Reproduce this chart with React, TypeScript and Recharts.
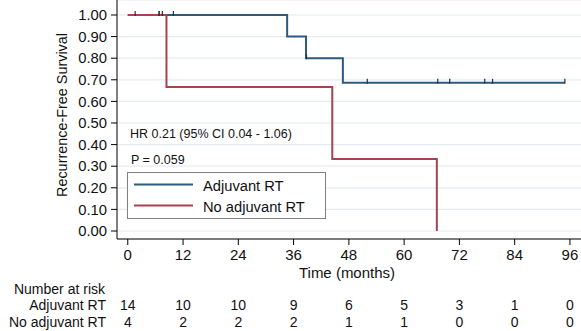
import React from "react";
import {
  ComposedChart,
  Line,
  Scatter,
  XAxis,
  YAxis,
  CartesianGrid,
} from "recharts";

// Kaplan-Meier steps (time in months, survival)
const adjuvantSteps = [
  { t: 0, s: 1 },
  { t: 34.6, s: 0.9 },
  { t: 38.7, s: 0.8 },
  { t: 46.7, s: 0.686 },
  { t: 94.9, s: 0.686 },
];
const noAdjuvantSteps = [
  { t: 0, s: 1 },
  { t: 8.4, s: 0.667 },
  { t: 44.4, s: 0.333 },
  { t: 67.1, s: 0 },
];

// censored observations
const adjuvantCensored = [
  { t: 1.6, s: 1 },
  { t: 6.8, s: 1 },
  { t: 7.5, s: 1 },
  { t: 9.9, s: 1 },
  { t: 38.8, s: 0.8 },
  { t: 52.0, s: 0.686 },
  { t: 67.3, s: 0.686 },
  { t: 69.9, s: 0.686 },
  { t: 77.5, s: 0.686 },
  { t: 79.2, s: 0.686 },
  { t: 94.9, s: 0.686 },
];
const noAdjuvantCensored = [{ t: 6.8, s: 1 }];

const xTicks = [0, 12, 24, 36, 48, 60, 72, 84, 96];
const yTicks = [0, 0.1, 0.2, 0.3, 0.4, 0.5, 0.6, 0.7, 0.8, 0.9, 1.0];
const riskAdjuvant = [14, 10, 10, 9, 6, 5, 3, 1, 0];
const riskNoAdjuvant = [4, 2, 2, 2, 1, 1, 0, 0, 0];

const BLUE = "#2d5a7f";
const RED = "#a6434e";
const FONT = "'Liberation Sans', Arial, Helvetica, sans-serif";
const TXT = "#111";

const CensorMark = (props: any) => {
  const { cx, cy } = props;
  if (cx == null || cy == null) return null;
  return (
    <line x1={cx} y1={cy - 4} x2={cx} y2={cy + 1} stroke="#22303d" strokeWidth={1.2} />
  );
};

const renderXTick = (props: any) => {
  const { x, payload } = props;
  const i = xTicks.indexOf(payload.value);
  return (
    <g fontFamily={FONT} fill={TXT} textAnchor="middle">
      <text x={x} y={260} fontSize={15}>{payload.value}</text>
      <text x={x} y={310} fontSize={14}>{riskAdjuvant[i]}</text>
      <text x={x} y={326.5} fontSize={14}>{riskNoAdjuvant[i]}</text>
    </g>
  );
};

const renderTableLabels = () => (
  <g fontFamily={FONT} fill={TXT}>
    <text x={347} y={277.5} textAnchor="middle" fontSize={15}>Time (months)</text>
    <text x={105} y={294} textAnchor="end" fontSize={14}>Number at risk</text>
    <text x={106} y={310} textAnchor="end" fontSize={14}>Adjuvant RT</text>
    <text x={106} y={326.5} textAnchor="end" fontSize={14}>No adjuvant RT</text>
  </g>
);

const renderYLabel = () => (
  <text
    x={66.5}
    y={115}
    transform="rotate(-90 66.5 115)"
    textAnchor="middle"
    fontFamily={FONT}
    fontSize={14.4}
    fill={TXT}
  >
    Recurrence-Free Survival
  </text>
);

const Legend = () => (
  <div
    style={{
      position: "absolute",
      left: 127,
      top: 172,
      width: 197,
      height: 45,
      border: "1px solid #808080",
      background: "#fff",
      fontFamily: FONT,
      fontSize: 14.7,
      color: TXT,
    }}
  >
    <svg width={197} height={45} style={{ position: "absolute", left: 0, top: 0 }}>
      <line x1={6} y1={11.5} x2={65} y2={11.5} stroke={BLUE} strokeWidth={2} />
      <line x1={6} y1={32.5} x2={65} y2={32.5} stroke={RED} strokeWidth={2} />
    </svg>
    <div style={{ position: "absolute", left: 75, top: 6, lineHeight: 1, whiteSpace: "nowrap" }}>
      Adjuvant RT
    </div>
    <div style={{ position: "absolute", left: 75, top: 26.5, lineHeight: 1, whiteSpace: "nowrap" }}>
      No adjuvant RT
    </div>
  </div>
);

const App = () => {
  return (
    <div style={{ position: "absolute", left: 0, top: 0, width: 581, height: 331, background: "#fff" }}>
      <ComposedChart
        width={581}
        height={331}
        margin={{ top: 0, right: 0, left: 0, bottom: 0 }}
      >
        <CartesianGrid horizontal vertical={false} stroke="#e4ecf1" strokeWidth={1.2} />
        <XAxis
          type="number"
          dataKey="t"
          domain={[-2.34, 98.4]}
          ticks={xTicks}
          interval={0}
          allowDataOverflow
          height={92}
          tick={renderXTick}
          tickSize={6}
          axisLine={{ stroke: "#000" }}
          tickLine={{ stroke: "#000" }}
          label={{ content: renderTableLabels }}
        />
        <YAxis
          type="number"
          dataKey="s"
          domain={[-0.037, 1.0694]}
          ticks={yTicks}
          interval={0}
          allowDataOverflow
          width={117}
          tickSize={6}
          tickMargin={4}
          tickFormatter={(v: number) => v.toFixed(2)}
          tick={{ fontFamily: FONT, fontSize: 14.8, fill: TXT }}
          axisLine={{ stroke: "#000" }}
          tickLine={{ stroke: "#000" }}
          label={{ content: renderYLabel }}
        />
        <Line
          data={adjuvantSteps}
          dataKey="s"
          type="stepAfter"
          stroke={BLUE}
          strokeWidth={2}
          dot={false}
          isAnimationActive={false}
        />
        <Line
          data={noAdjuvantSteps}
          dataKey="s"
          type="stepAfter"
          stroke={RED}
          strokeWidth={2}
          dot={false}
          isAnimationActive={false}
        />
        <Scatter
          data={adjuvantCensored}
          dataKey="s"
          shape={CensorMark}
          isAnimationActive={false}
        />
        <Scatter
          data={noAdjuvantCensored}
          dataKey="s"
          shape={CensorMark}
          isAnimationActive={false}
        />
      </ComposedChart>
      <div
        style={{
          position: "absolute",
          left: 130,
          top: 128,
          fontFamily: FONT,
          fontSize: 12.5,
          lineHeight: 1,
          color: TXT,
          whiteSpace: "nowrap",
        }}
      >
        HR 0.21 (95% CI 0.04 - 1.06)
      </div>
      <div
        style={{
          position: "absolute",
          left: 131,
          top: 153.5,
          fontFamily: FONT,
          fontSize: 12.5,
          lineHeight: 1,
          color: TXT,
          whiteSpace: "nowrap",
        }}
      >
        P = 0.059
      </div>
      <Legend />
    </div>
  );
};

export default App;
